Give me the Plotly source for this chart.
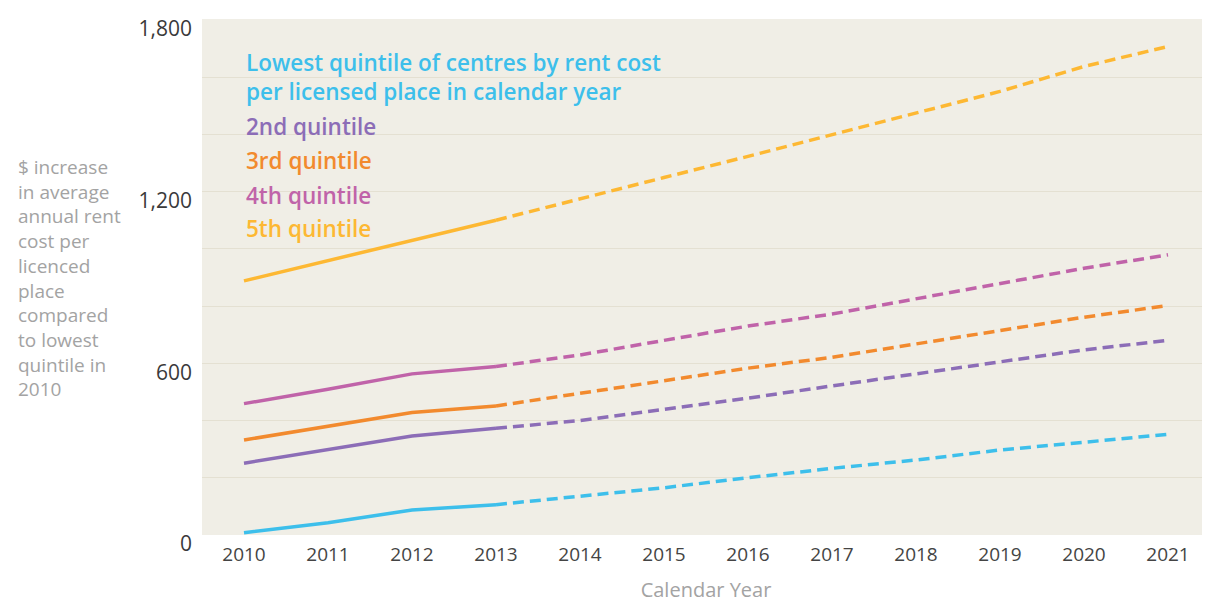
import plotly.graph_objects as go

years = [2010, 2011, 2012, 2013, 2014, 2015, 2016, 2017, 2018, 2019, 2020, 2021]
lowest = [8, 43, 87, 106, 134, 165, 200, 233, 262, 297, 324, 352]
second = [251, 297, 346, 373, 400, 439, 478, 521, 563, 606, 647, 680]
third = [332, 381, 428, 451, 495, 540, 583, 621, 668, 717, 761, 802]
fourth = [459, 509, 563, 589, 629, 680, 730, 772, 825, 880, 932, 979]
fifth = [888, 958, 1030, 1100, 1173, 1249, 1323, 1399, 1474, 1550, 1637, 1707]

series_names = ["Lowest quintile of centres by rent cost<br>per licensed place in calendar year",
                "2nd quintile", "3rd quintile", "4th quintile", "5th quintile"]
series_values = [lowest, second, third, fourth, fifth]
colors = ["#3DBFEB", "#8C6DB7", "#F28A2E", "#C063A9", "#FDB833"]

y_ticks = [0, 600, 1200, 1800]
y_tick_text = ["0", "600", "1,200", "1,800"]
actual_end = 2013  # last observed year; later values are projections

FONT = "Open Sans"

fig = go.Figure()
cut = years.index(actual_end)
for name, vals, col in zip(series_names, series_values, colors):
    fig.add_trace(go.Scatter(x=years[:cut + 1], y=vals[:cut + 1], mode="lines",
                             line=dict(color=col, width=3.5), name=name,
                             showlegend=False, hoverinfo="x+y"))
    fig.add_trace(go.Scatter(x=years[cut:], y=vals[cut:], mode="lines",
                             line=dict(color=col, width=3.5, dash="11px,6px"),
                             name=name + " (projected)", showlegend=False, hoverinfo="x+y"))

# legend-like coloured labels inside the plot
label_lines = [
    ("Lowest quintile of centres by rent cost", colors[0], 62),
    ("per licensed place in calendar year", colors[0], 91),
    ("2nd quintile", colors[1], 126),
    ("3rd quintile", colors[2], 160),
    ("4th quintile", colors[3], 195),
    ("5th quintile", colors[4], 229),
]
PLOT_TOP, PLOT_BOTTOM = 19, 535
PLOT_W = 1008
for text, col, py in label_lines:
    fig.add_annotation(x=2010, xref="x", xanchor="left",
                       y=(PLOT_BOTTOM - py) / (PLOT_BOTTOM - PLOT_TOP), yref="paper", yanchor="middle",
                       text=text, showarrow=False,
                       font=dict(family=FONT, size=22.5, color=col, weight=600))

# y-axis title as wrapped gray text at far left
fig.add_annotation(x=(16 - 202) / PLOT_W, xref="paper", xanchor="left",
                   y=(PLOT_BOTTOM - 278) / (PLOT_BOTTOM - PLOT_TOP), yref="paper", yanchor="middle",
                   align="left", showarrow=False,
                   text="$ increase<br>in average<br>annual rent<br>cost per<br>licenced<br>place<br>compared<br>to lowest<br>quintile in<br>2010",
                   font=dict(family=FONT, size=19, color="#A3A3A3"))

# page body has an 8px default margin, so the figure is sized to fill the window from there
fig.update_layout(
    width=1202, height=595,
    margin=dict(l=194, r=0, t=11, b=68),
    paper_bgcolor="white", plot_bgcolor="#F0EEE6",
    font=dict(family=FONT),
    xaxis=dict(range=[2009.5, 2021.5], tickmode="array", tickvals=years,
               ticktext=[str(y) for y in years], showgrid=False, zeroline=False,
               showline=False, ticks="", ticklabelstandoff=6, automargin=False,
               tickfont=dict(family=FONT, size=19, color="#444444"),
               title=dict(text="Calendar Year", standoff=20,
                          font=dict(family=FONT, size=20, color="#A3A3A3"))),
    yaxis=dict(range=[0, 1803], tickmode="array", tickvals=y_ticks, ticktext=y_tick_text,
               showgrid=True, gridcolor="#E4E0D2", gridwidth=1, zeroline=False,
               showline=False, ticks="", ticklabelstandoff=9, ticklabelshift=9,
               automargin=False,
               minor=dict(dtick=200, tick0=0, showgrid=True, gridcolor="#E4E0D2", gridwidth=1),
               tickfont=dict(family=FONT, size=21, color="#3A3A3A")),
)

fig.write_html("out.html")
